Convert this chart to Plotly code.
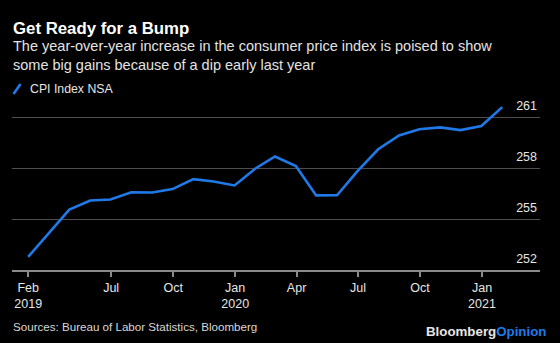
import plotly.graph_objects as go

# ---- data ----
dates = ["2019-02-28", "2019-03-31", "2019-04-30", "2019-05-31", "2019-06-30", "2019-07-31",
         "2019-08-31", "2019-09-30", "2019-10-31", "2019-11-30", "2019-12-31", "2020-01-31",
         "2020-02-29", "2020-03-31", "2020-04-30", "2020-05-31", "2020-06-30", "2020-07-31",
         "2020-08-31", "2020-09-30", "2020-10-31", "2020-11-30", "2020-12-31", "2021-01-31"]
cpi = [252.776, 254.202, 255.548, 256.092, 256.143, 256.571,
       256.558, 256.759, 257.346, 257.208, 256.974, 257.971,
       258.678, 258.115, 256.389, 256.394, 257.797, 259.101,
       259.918, 260.280, 260.388, 260.229, 260.474, 261.582]
series_name = "CPI Index NSA"

x_tickvals = ["2019-02-28", "2019-07-01", "2019-10-01", "2020-01-01",
              "2020-04-01", "2020-07-01", "2020-10-01", "2021-01-01"]
x_ticktext = ["Feb<br>2019", "Jul", "Oct", "Jan<br>2020", "Apr", "Jul", "Oct", "Jan<br>2021"]
y_tickvals = [252, 255, 258, 261]
y_ticktext = ["252", "255", "258", "261"]

title = "Get Ready for a Bump"
subtitle = ("The year-over-year increase in the consumer price index is poised to show<br>"
            "some big gains because of a dip early last year")
source = "Sources: Bureau of Labor Statistics, Bloomberg"

BLUE = "#1f7ae8"
FONT = "Liberation Sans"

# plot area in pixels
W, H = 560, 343
L, R, T, B = 12, 540, 88, 270
Y_TOP = 252 + (B - T) / 17.0


def px(x):
    return (x - L) / (R - L)


def py(y):
    return (B - y) / (B - T)


fig = go.Figure()
fig.add_trace(go.Scatter(x=dates, y=cpi, mode="lines", name=series_name,
                         line=dict(color=BLUE, width=2.6), showlegend=False,
                         hoverinfo="skip"))

fig.update_layout(
    width=W, height=H,
    margin=dict(l=L, r=W - R, t=T, b=H - B),
    paper_bgcolor="black", plot_bgcolor="black",
    font=dict(family=FONT, color="#e6e6e6", size=12),
    xaxis=dict(
        type="date", range=["2019-02-04", "2021-03-28"],
        tickvals=x_tickvals, ticktext=x_ticktext,
        showgrid=False, zeroline=False,
        showline=True, linecolor="#8a8a8a", linewidth=1.5,
        ticks="outside", ticklen=5, tickcolor="#8a8a8a", tickwidth=1.5,
        tickfont=dict(size=12.5, color="#e6e6e6"),
    ),
    yaxis=dict(
        range=[252, Y_TOP], side="right", ticklabelposition="inside",
        tickvals=y_tickvals, ticktext=y_ticktext,
        showgrid=True, gridcolor="#4d4d4d", gridwidth=1.2,
        zeroline=False, showline=False, ticks="",
        ticklabelshift=-11,
        tickfont=dict(size=12.5, color="#e6e6e6"),
    ),
)

ann = [
    dict(text="<b>" + title + "</b>", x=px(11), y=py(28), font=dict(size=16.8, color="white")),
    dict(text=subtitle, x=px(11), y=py(56), font=dict(size=14.5, color="#e3e3e3")),
    dict(text=series_name, x=px(28), y=py(89), font=dict(size=12.3, color="#e6e6e6")),
    dict(text=source, x=px(11), y=py(326), font=dict(size=11.6, color="#d8d8d8")),
]
for a in ann:
    fig.add_annotation(xref="paper", yref="paper", xanchor="left", yanchor="middle",
                       showarrow=False, align="left", **a)

fig.add_annotation(xref="paper", yref="paper", x=px(548), y=py(331), xanchor="right",
                   yanchor="middle", showarrow=False,
                   text="<b>Bloomberg<span style='color:%s'>Opinion</span></b>" % BLUE,
                   font=dict(size=13.3, color="#e6e6e6"))

# legend swatch (slash)
fig.add_shape(type="line", xref="paper", yref="paper",
              x0=px(13.5), y0=py(94), x1=px(20.5), y1=py(84),
              line=dict(color=BLUE, width=2.6))

fig.write_html("out.html")
